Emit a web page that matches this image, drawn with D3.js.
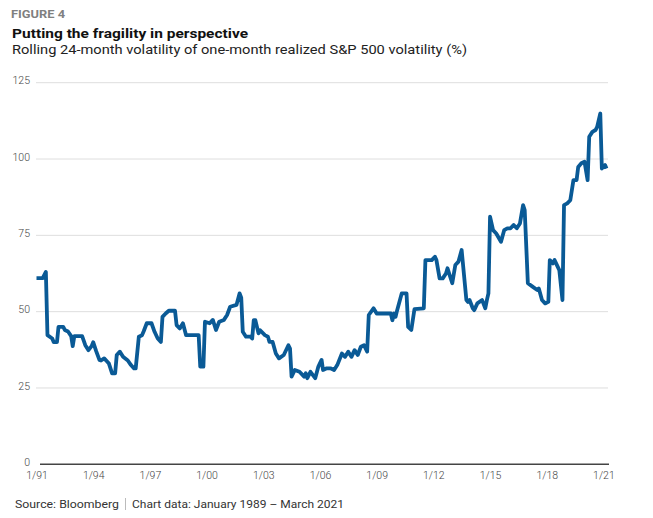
<!DOCTYPE html>
<html>
<head>
<meta charset="utf-8">
<script src="https://cdn.jsdelivr.net/npm/d3@7"></script>
<style>
  body { margin: 0; background: #fff; }
  text { font-family: Roboto, "Noto Sans", sans-serif; }
</style>
</head>
<body>
<script>
// Rolling 24-month volatility of one-month realized S&P 500 volatility
const width = 653, height = 518;

const months = [
  "1991-01","1991-05","1991-07","1991-08","1991-11","1991-12","1992-02","1992-03","1992-06","1992-07",
  "1992-09","1992-11","1992-12","1993-01","1993-06","1993-08","1993-10","1993-12","1994-01","1994-03",
  "1994-05","1994-06","1994-08","1994-10","1994-11","1995-01","1995-03","1995-04","1995-06","1995-08",
  "1995-11","1996-01","1996-03","1996-04","1996-06","1996-08","1996-09","1996-11","1997-02","1997-04",
  "1997-06","1997-08","1997-09","1997-11","1998-01","1998-05","1998-06","1998-08","1998-10","1998-12",
  "1999-08","1999-09","1999-11","1999-12","2000-03","2000-05","2000-07","2000-09","2000-12","2001-02",
  "2001-04","2001-08","2001-10","2001-11","2001-12","2002-02","2002-05","2002-06","2002-07","2002-08",
  "2002-10","2002-11","2003-02","2003-04","2003-05","2003-07","2003-09","2003-11","2004-02","2004-05",
  "2004-06","2004-07","2004-09","2004-12","2005-03","2005-04","2005-05","2005-07","2005-10","2005-12",
  "2006-02","2006-03","2006-05","2006-08","2006-10","2006-12","2007-03","2007-05","2007-07","2007-09",
  "2007-11","2008-01","2008-03","2008-05","2008-07","2008-08","2008-11","2009-01","2009-10","2009-11",
  "2009-12","2010-01","2010-02","2010-05","2010-08","2010-09","2010-11","2011-01","2011-07","2011-08",
  "2011-12","2012-02","2012-03","2012-05","2012-07","2012-09","2012-10","2013-01","2013-03","2013-05",
  "2013-07","2013-10","2013-11","2013-12","2014-02","2014-03","2014-05","2014-08","2014-10","2014-11",
  "2014-12","2015-01","2015-03","2015-05","2015-08","2015-10","2015-12","2016-02","2016-04","2016-06",
  "2016-08","2016-10","2016-11","2017-01","2017-04","2017-07","2017-08","2017-10","2017-12","2018-02",
  "2018-03","2018-05","2018-06","2018-09","2018-11","2018-12","2019-02","2019-04","2019-06","2019-08",
  "2019-09","2019-11","2020-01","2020-03","2020-04","2020-06","2020-08","2020-09","2020-11","2020-12",
  "2021-02","2021-03"
];

const volatility = [
  61,61,63,42.3,41.2,40,40,45,45,44,
  43.5,42,38.7,42,42,39,37.4,38.7,40,37,
  34.2,34,34.7,33.6,33,29.8,29.8,35.8,36.9,35.2,
  34,32.5,31.4,31.4,41.8,42.3,43.5,46.2,46.2,43.4,
  41.2,40.1,48.3,49.4,50.3,50.3,45.6,44.5,46.2,42.3,
  42.3,32,32,46.7,46.2,47.3,44,46.7,47.3,48.9,
  51.6,52.2,56,54.6,43.4,41.8,41.8,41.2,47.2,47.2,
  42.9,43.9,42.3,41.8,40.1,40.1,36.3,34.7,35.8,39,
  37.9,28.7,30.9,30.3,28.7,29.8,28.2,30.3,28.2,32,
  34.2,30.9,31.4,31.4,30.9,32.5,36.3,35.2,36.9,35.2,
  37.4,35.8,38.5,39,36.9,48.9,51.1,49.4,49.4,47.2,
  49.4,48.3,50.5,56,56,45,44,50.8,51.1,66.9,
  66.9,68,66.9,60.9,60.9,62.5,64.2,59.3,65.3,66.4,
  70.2,53.8,53.2,53.8,51.1,50.5,52.7,53.8,51.1,53.8,
  56,81.1,76.7,75.6,72.9,76.7,77.3,77.3,78.4,77.3,
  78.9,84.9,83.3,59.3,58.2,57.1,57.6,53.8,52.7,53.2,
  66.9,65.8,66.9,63.6,53.8,84.9,85.5,86.5,93.1,93.1,
  97.4,98.6,99.1,93.1,107.3,108.9,109.5,110.5,114.9,96.9,
  98,96.9
];

const yTicks = [0, 25, 50, 75, 100, 125];
const xTickYears = [1991, 1994, 1997, 2000, 2003, 2006, 2009, 2012, 2015, 2018, 2021];

const parse = d3.timeParse("%Y-%m");
const data = months.map((m, i) => ({ date: parse(m), value: volatility[i] }));

const svg = d3.select("body").append("svg")
    .attr("width", width)
    .attr("height", height);

const x = d3.scaleTime()
    .domain([parse("1991-01"), parse("2021-03")])
    .range([36.5, 606.5]);

const y = d3.scaleLinear()
    .domain([0, 125])
    .range([464.3, 82.7]);

// gridlines
svg.append("g")
    .selectAll("line")
    .data(yTicks.filter(d => d > 0))
    .enter().append("line")
    .attr("x1", 36)
    .attr("x2", 608)
    .attr("y1", d => y(d))
    .attr("y2", d => y(d))
    .attr("stroke", "#dedede")
    .attr("stroke-width", 1);

// y labels
svg.append("g")
    .selectAll("text")
    .data(yTicks)
    .enter().append("text")
    .attr("x", 30)
    .attr("y", d => y(d) + 1.7)
    .attr("text-anchor", "end")
    .attr("font-size", "10.5px")
    .attr("font-weight", 300)
    .attr("fill", "#444")
    .text(d => d);

// zero axis
svg.append("line")
    .attr("x1", 40)
    .attr("x2", 609)
    .attr("y1", y(0))
    .attr("y2", y(0))
    .attr("stroke", "#444")
    .attr("stroke-width", 1.5);

// x axis labels
const xAxis = d3.axisBottom(x)
    .tickValues(xTickYears.map(yr => new Date(yr, 0, 1)))
    .tickSize(0)
    .tickPadding(0)
    .tickFormat(d3.timeFormat("1/%y"));

const gx = svg.append("g")
    .attr("transform", `translate(0,${y(0)})`)
    .call(xAxis);
gx.select(".domain").remove();
gx.selectAll("text")
    .attr("dy", null)
    .attr("y", 14.3)
    .attr("font-family", "Roboto, sans-serif")
    .attr("font-size", "10.5px")
    .attr("font-weight", 300)
    .attr("fill", "#444");

// line
const line = d3.line()
    .x(d => x(d.date))
    .y(d => y(d.value));

svg.append("path")
    .datum(data)
    .attr("fill", "none")
    .attr("stroke", "#0a5a96")
    .attr("stroke-width", 3.8)
    .attr("stroke-linejoin", "round")
    .attr("d", line);

// titles
svg.append("text")
    .attr("x", 11).attr("y", 18)
    .attr("font-size", "10px")
    .attr("font-weight", 700)
    .attr("fill", "#808080")
    .attr("textLength", 54)
    .attr("lengthAdjust", "spacingAndGlyphs")
    .text("FIGURE 4");

svg.append("text")
    .attr("x", 12).attr("y", 37.5)
    .attr("font-size", "13.5px")
    .attr("font-weight", 700)
    .attr("fill", "#111")
    .attr("textLength", 236)
    .attr("lengthAdjust", "spacingAndGlyphs")
    .text("Putting the fragility in perspective");

svg.append("text")
    .attr("x", 12).attr("y", 53.5)
    .attr("font-size", "13.5px")
    .attr("fill", "#222")
    .attr("textLength", 455)
    .attr("lengthAdjust", "spacingAndGlyphs")
    .text("Rolling 24-month volatility of one-month realized S&P 500 volatility (%)");

// source
svg.append("text")
    .attr("x", 15).attr("y", 508)
    .attr("font-size", "11.5px")
    .attr("fill", "#333")
    .attr("textLength", 104)
    .attr("lengthAdjust", "spacingAndGlyphs")
    .text("Source: Bloomberg");

svg.append("line")
    .attr("x1", 125.5).attr("x2", 125.5)
    .attr("y1", 498).attr("y2", 510)
    .attr("stroke", "#bbb")
    .attr("stroke-width", 1);

svg.append("text")
    .attr("x", 132).attr("y", 508)
    .attr("font-size", "11.5px")
    .attr("fill", "#333")
    .attr("textLength", 212)
    .attr("lengthAdjust", "spacingAndGlyphs")
    .text("Chart data: January 1989 \u2013 March 2021");
</script>
</body>
</html>
